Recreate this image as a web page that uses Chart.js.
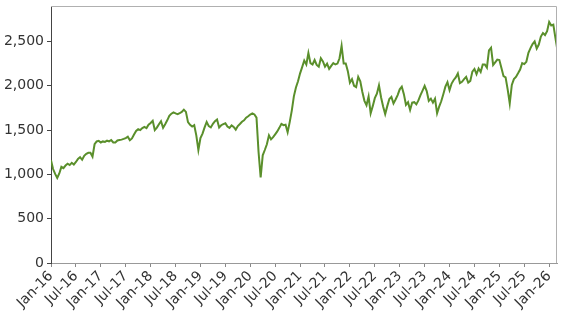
<!DOCTYPE html>
<html>
<head>
<meta charset="utf-8">
<script src="https://cdn.jsdelivr.net/npm/chart.js@4.4.1/dist/chart.umd.min.js"></script>
<style>
  html, body { margin: 0; padding: 0; background: #fff; }
  #wrap { width: 561px; height: 311px; position: relative; }
</style>
</head>
<body>
<div id="wrap"><canvas id="chart"></canvas></div>
<script>
// one reading every half month from Jan 2016, last reading end of Feb 2026
const startYear = 2016;
const lastDate = 2026.157;
const values = [
  1160, 1060, 1005, 960, 1010, 1085, 1070, 1100, 1120, 1105, 1130, 1110,
  1140, 1175, 1195, 1165, 1210, 1232, 1244, 1245, 1200, 1340, 1372, 1378,
  1360, 1372, 1366, 1380, 1372, 1388, 1360, 1360, 1382, 1388, 1392, 1400,
  1410, 1425, 1385, 1405, 1450, 1490, 1510, 1500, 1522, 1535, 1522, 1560,
  1580, 1605, 1500, 1528, 1565, 1600, 1525, 1565, 1610, 1660, 1685, 1700,
  1688, 1680, 1690, 1705, 1730, 1705, 1590, 1560, 1540, 1555, 1440, 1275,
  1410, 1460, 1530, 1592, 1545, 1530, 1570, 1600, 1620, 1530, 1555, 1568,
  1577, 1540, 1525, 1552, 1535, 1505, 1545, 1568, 1594, 1610, 1640, 1656,
  1675, 1688, 1676, 1640, 1250, 965, 1215, 1275, 1340, 1440, 1395, 1420,
  1452, 1485, 1525, 1570, 1555, 1560, 1475, 1590, 1720, 1880, 1980, 2050,
  2140, 2210, 2285, 2240, 2370, 2255, 2240, 2290, 2235, 2215, 2310, 2275,
  2215, 2250, 2190, 2225, 2255, 2240, 2250, 2310, 2450, 2250, 2250, 2165,
  2035, 2075, 2000, 1985, 2100, 2050, 1930, 1830, 1780, 1880, 1690, 1770,
  1860, 1910, 2005, 1870, 1765, 1680, 1770, 1850, 1875, 1800, 1845, 1895,
  1960, 1990, 1905, 1785, 1815, 1727, 1810, 1815, 1790, 1835, 1895, 1945,
  1998, 1940, 1830, 1855, 1810, 1855, 1690, 1764, 1825, 1905, 1990, 2040,
  1950, 2025, 2065, 2095, 2140, 2030, 2045, 2075, 2100, 2035, 2055, 2160,
  2190, 2130, 2195, 2155, 2240, 2240, 2205, 2400, 2430, 2235, 2265, 2295,
  2290, 2200, 2108, 2095, 1960, 1800, 2010, 2075, 2100, 2140, 2183, 2255,
  2245, 2270, 2372, 2425, 2470, 2500, 2420, 2465, 2555, 2595, 2572, 2615,
  2720, 2680, 2690, 2540, 2430
];
const xTicks = [2016, 2016.5, 2017, 2017.5, 2018, 2018.5, 2019, 2019.5, 2020, 2020.5,
  2021, 2021.5, 2022, 2022.5, 2023, 2023.5, 2024, 2024.5, 2025, 2025.5, 2026];
const xTickLabels = ['Jan-16', 'Jul-16', 'Jan-17', 'Jul-17', 'Jan-18', 'Jul-18', 'Jan-19', 'Jul-19',
  'Jan-20', 'Jul-20', 'Jan-21', 'Jul-21', 'Jan-22', 'Jul-22', 'Jan-23', 'Jul-23', 'Jan-24', 'Jul-24',
  'Jan-25', 'Jul-25', 'Jan-26'];
const yTicks = [0, 500, 1000, 1500, 2000, 2500];

const points = values.map((v, i) => ({
  x: i === values.length - 1 ? lastDate : startYear + i / 24,
  y: v
}));

// top and right spines in light grey
const frame = {
  id: 'frame',
  afterDraw(chart) {
    const { ctx, chartArea: a } = chart;
    ctx.save();
    ctx.strokeStyle = '#b0b0b0';
    ctx.lineWidth = 1;
    ctx.beginPath();
    ctx.moveTo(a.left, a.top + 0.5);
    ctx.lineTo(a.right - 0.5, a.top + 0.5);
    ctx.lineTo(a.right - 0.5, a.bottom);
    ctx.stroke();
    ctx.restore();
  }
};

const font = { family: 'DejaVu Sans', size: 14 };

new Chart(document.getElementById('chart'), {
  type: 'line',
  data: {
    datasets: [{
      data: points,
      borderColor: '#5a8f2b',
      borderWidth: 2,
      pointRadius: 0,
      tension: 0,
      fill: false
    }]
  },
  options: {
    responsive: true,
    maintainAspectRatio: false,
    animation: false,
    layout: { padding: { top: 6, right: 4, left: 0, bottom: 0 } },
    plugins: { legend: { display: false }, tooltip: { enabled: false } },
    scales: {
      x: {
        type: 'linear',
        min: startYear,
        max: lastDate,
        afterBuildTicks: axis => { axis.ticks = xTicks.map(v => ({ value: v })); },
        afterFit: axis => { axis.height = 48; axis.paddingLeft = 0; axis.paddingRight = 0; },
        ticks: {
          autoSkip: false,
          maxRotation: 45,
          minRotation: 45,
          padding: 1,
          color: '#333',
          font: font,
          callback: (v, i) => xTickLabels[i]
        },
        grid: { drawOnChartArea: false, drawTicks: true, tickLength: 4, color: '#888' },
        border: { color: '#999', width: 1 }
      },
      y: {
        min: 0,
        max: 2900,
        afterBuildTicks: axis => { axis.ticks = yTicks.map(v => ({ value: v })); },
        afterFit: axis => { axis.width = 51; axis.paddingTop = 0; axis.paddingBottom = 0; },
        ticks: { color: '#333', font: font, padding: 3 },
        grid: { drawOnChartArea: false, drawTicks: true, tickLength: 4, color: '#444' },
        border: { color: '#444', width: 1 }
      }
    }
  },
  plugins: [frame]
});
</script>
</body>
</html>
